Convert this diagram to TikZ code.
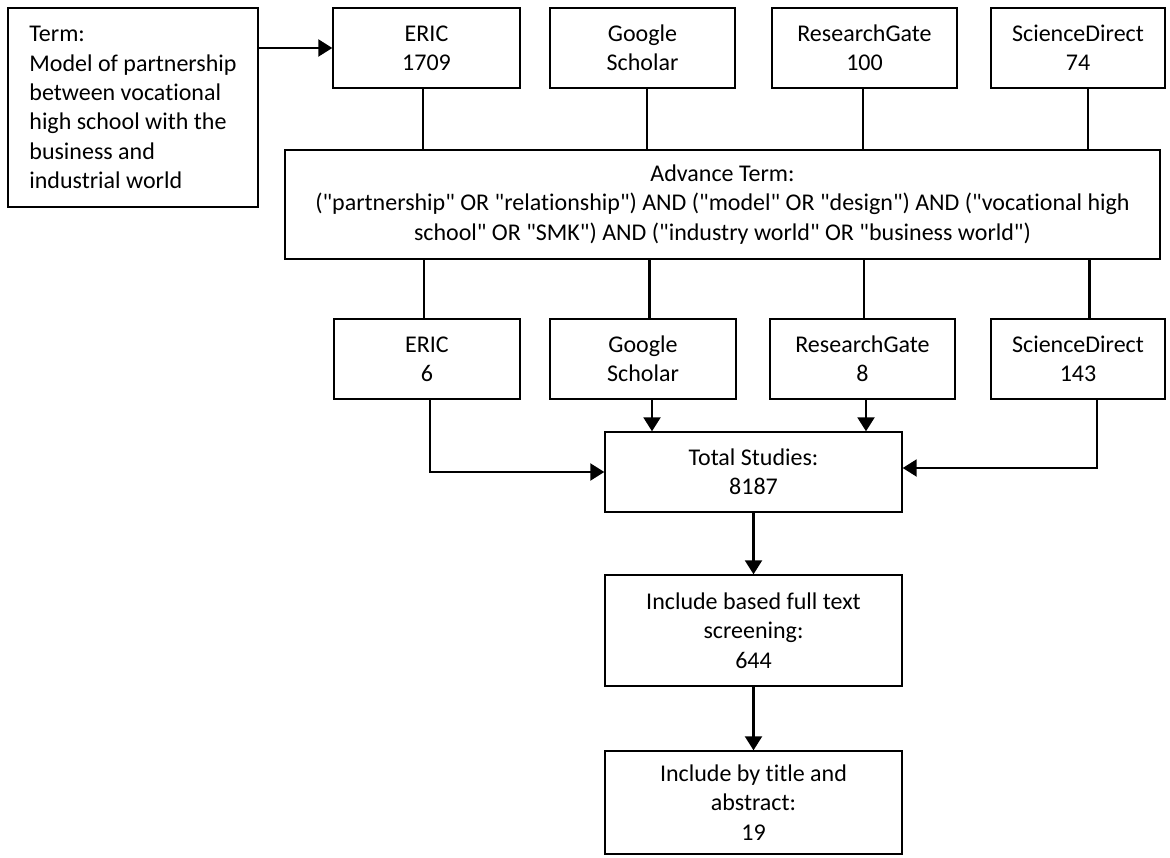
\documentclass[tikz,border=0pt]{standalone}
\usepackage{fontspec}
\setmainfont{Carlito}[Ligatures={TeXOff,NoCommon}]
\usetikzlibrary{arrows.meta}
\begin{document}
\begin{tikzpicture}[x=1pt,y=-1pt,
  box/.style={draw, line width=1.4pt, inner sep=0pt, align=center,
    font=\fontsize{24}{29.3}\selectfont},
  conn/.style={line width=2.2pt},
  arr/.style={conn, -{Triangle[length=14pt,width=17pt]}}]
\useasboundingbox (0,0) rectangle (1170,858);

% top row
\node[box, align=left, minimum width=250pt, minimum height=199pt] (term) at (133,107.5)
  {Term:\\Model of partnership\\between vocational\\high school with the\\business and\\industrial world};
\node[box, minimum width=187pt, minimum height=80pt] (ericT) at (426.5,48) {ERIC\\1709};
\node[box, minimum width=185pt, minimum height=80pt] (gsT) at (642.5,48) {Google\\Scholar};
\node[box, minimum width=185pt, minimum height=80pt] (rgT) at (864.5,48) {ResearchGate\\100};
\node[box, minimum width=174pt, minimum height=80pt] (sdT) at (1078,48) {ScienceDirect\\74};

% advance term
\node[box, minimum width=875pt, minimum height=109pt] (adv) at (722.5,204.5)
  {Advance Term:\\("partnership" OR "relationship") AND ("model" OR "design") AND ("vocational high\\school" OR "SMK") AND ("industry world" OR "business world")};

% second row
\node[box, minimum width=186pt, minimum height=80pt] (eric6) at (427,359) {ERIC\\6};
\node[box, minimum width=186pt, minimum height=80pt] (gs6) at (643,359) {Google\\Scholar};
\node[box, minimum width=185pt, minimum height=80pt] (rg6) at (862.5,359) {ResearchGate\\8};
\node[box, minimum width=174pt, minimum height=80pt] (sd6) at (1078,359) {ScienceDirect\\143};

% results
\node[box, minimum width=297pt, minimum height=80pt] (total) at (753.5,472) {Total Studies:\\8187};
\node[box, minimum width=297pt, minimum height=111pt] (incl1) at (753.5,630.5) {Include based full text\\screening:\\644};
\node[box, minimum width=297pt, minimum height=103pt] (incl2) at (753.5,802.5) {Include by title and\\abstract:\\19};

% connectors
\draw[arr] (ericT.west -| term.east) -- (ericT.west);

\draw[conn] ([xshift=-3.5pt]ericT.south) -- ([xshift=-3.5pt]ericT.south |- adv.north);
\draw[conn] ([xshift=4.5pt]gsT.south) -- ([xshift=4.5pt]gsT.south |- adv.north);
\draw[conn] ([xshift=-1.5pt]rgT.south) -- ([xshift=-1.5pt]rgT.south |- adv.north);
\draw[conn] ([xshift=10pt]sdT.south) -- ([xshift=10pt]sdT.south |- adv.north);

\draw[conn] ([xshift=-3pt]eric6.north |- adv.south) -- ([xshift=-3pt]eric6.north);
\draw[conn] ([xshift=6.5pt]gs6.north |- adv.south) -- ([xshift=6.5pt]gs6.north);
\draw[conn] ([xshift=1.5pt]rg6.north |- adv.south) -- ([xshift=1.5pt]rg6.north);
\draw[conn] ([xshift=11.5pt]sd6.north |- adv.south) -- ([xshift=11.5pt]sd6.north);

\draw[arr] ([xshift=3pt]eric6.south) |- (total.west);
\draw[arr] ([xshift=9pt]gs6.south) -- ([xshift=9pt]gs6.south |- total.north);
\draw[arr] ([xshift=3.5pt]rg6.south) -- ([xshift=3.5pt]rg6.south |- total.north);
\draw[arr] ([xshift=19pt]sd6.south) |- ([yshift=4pt]total.east);

\draw[arr] (total.south) -- (incl1.north);
\draw[arr] (incl1.south) -- (incl2.north);
\end{tikzpicture}
\end{document}
